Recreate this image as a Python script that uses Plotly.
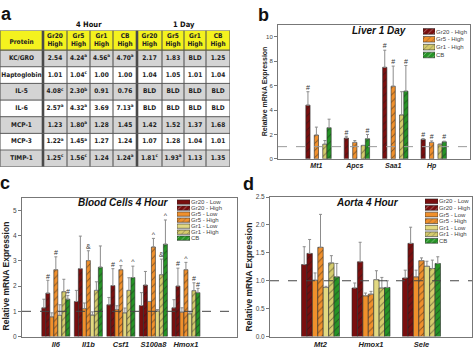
import plotly.graph_objects as go

W, H = 473, 352

# ---------------- Panel a: protein table ----------------
proteins = ["KC/GRO", "Haptoglobin", "IL-5", "IL-6", "MCP-1", "MCP-3", "TIMP-1"]
table_headers = ["Protein", "Gr20<br>High", "Gr5<br>High", "Gr1<br>High", "CB<br>High",
                 "Gr20<br>High", "Gr5<br>High", "Gr1<br>High", "CB<br>High"]
h4_gr20 = ["2.54", "1.01", "4.08", "2.57", "1.23", "1.22", "1.25"]
h4_gr20_sig = ["", "", "c", "a", "", "a", "c"]
h4_gr5 = ["4.24", "1.04", "2.30", "4.32", "1.80", "1.45", "1.56"]
h4_gr5_sig = ["a", "c", "b", "a", "a", "a", "c"]
h4_gr1 = ["4.56", "1.00", "0.91", "3.69", "1.28", "1.27", "1.24"]
h4_gr1_sig = ["a", "", "", "", "", "", ""]
h4_cb = ["4.70", "1.00", "0.76", "7.13", "1.45", "1.24", "1.24"]
h4_cb_sig = ["a", "", "", "a", "", "", "a"]
d1_gr20 = ["2.17", "1.04", "BLD", "BLD", "1.42", "1.07", "1.81"]
d1_gr20_sig = ["", "", "", "", "", "", "c"]
d1_gr5 = ["1.83", "1.05", "BLD", "BLD", "1.52", "1.28", "1.93"]
d1_gr5_sig = ["", "", "", "", "", "", "a"]
d1_gr1 = ["BLD", "1.01", "BLD", "BLD", "1.37", "1.04", "1.13"]
d1_gr1_sig = ["", "", "", "", "", "", ""]
d1_cb = ["1.25", "1.04", "BLD", "BLD", "1.68", "1.01", "1.35"]
d1_cb_sig = ["", "", "", "", "", "", ""]

# ---------------- Panel b: Liver 1 Day ----------------
liver_genes = ["Mt1", "Apcs", "Saa1", "Hp"]
liver_series = ["Gr20 - High", "Gr5 - High", "Gr1 - High", "CB"]
liver_vals = [[4.4, 1.7, 7.5, 1.6],
              [1.95, 1.35, 5.95, 1.35],
              [1.2, 1.1, 3.6, 1.2],
              [2.55, 1.65, 5.55, 1.4]]
liver_errs = [[1.1, 0.15, 1.4, 0.05],
              [0.65, 0.15, 1.65, 0.12],
              [0.3, 0.0, 1.9, 0.0],
              [0.7, 0.35, 2.1, 0.05]]
liver_sig = [["#", "#", "#", "#"],
             ["", "", "#", "#"],
             ["", "", "", ""],
             ["", "#", "#", "#"]]

# ---------------- Panel c: Blood Cells 4 Hour ----------------
blood_genes = ["Il6", "Il1b", "Csf1", "S100a8", "Hmox1"]
all_series = ["Gr20 - Low", "Gr20 - High", "Gr5 - Low", "Gr5 - High", "Gr1 - Low", "Gr1 - High", "CB"]
blood_vals = [[1.14, 1.39, 1.26, 1.23, 1.14],
              [1.72, 2.69, 2.02, 2.04, 2.0],
              [0.78, 1.11, 1.07, 1.39, 0.97],
              [2.65, 3.01, 2.65, 3.55, 2.65],
              [0.84, 0.85, 0.94, 1.01, 0.9],
              [1.78, 1.83, 1.83, 2.45, 1.82],
              [1.48, 2.75, 2.34, 3.66, 1.74]]
blood_errs = [[0.34, 0.44, 0.29, 0.51, 0.32],
              [0.51, 1.29, 0.67, 0.54, 0.71],
              [0.16, 0.22, 0.15, 0.0, 0.17],
              [0.51, 0.39, 0.16, 0.34, 0.29],
              [0.42, 0.13, 0.19, 0.06, 0.08],
              [0.49, 0.34, 0.5, 0.62, 0.31],
              [0.15, 0.84, 0.45, 0.96, 0.17]]
blood_sig = [["", "", "", "", ""],
             ["#", "", "#", "", "#"],
             ["", "", "", "", ""],
             ["#", "&", "^", "^", "^"],
             ["", "", "", "", ""],
             ["", "", "", "&", "#"],
             ["#", "", "^", "^", "#"]]

# ---------------- Panel d: Aorta 4 Hour ----------------
aorta_genes = ["Mt2", "Hmox1", "Sele"]
aorta_vals = [[1.29, 0.87, 1.05],
              [1.49, 1.34, 1.67],
              [1.01, 0.73, 1.07],
              [1.60, 0.76, 1.36],
              [0.88, 1.02, 1.26],
              [1.32, 0.87, 1.22],
              [1.07, 0.88, 1.31]]
aorta_errs = [[0.32, 0.09, 0.14],
              [0.25, 0.35, 0.29],
              [0.13, 0.05, 0.12],
              [0.59, 0.05, 0.05],
              [0.02, 0.16, 0.09],
              [0.13, 0.19, 0.15],
              [0.24, 0.12, 0.12]]

reference_level = 1.0

# ---------------- styles / layout constants ----------------
FONT = "Liberation Sans, Arial, sans-serif"
TFONT = "Liberation Sans Narrow, DejaVu Sans Condensed, Arial Narrow, sans-serif"
STYLE = {
    "Gr20 - Low": ("#7A0E0E", ""),
    "Gr20 - High": ("#7A0E0E", "/"),
    "Gr5 - Low": ("#F0902C", ""),
    "Gr5 - High": ("#F0902C", "/"),
    "Gr1 - Low": ("#E2D982", ""),
    "Gr1 - High": ("#D5CB6C", "/"),
    "CB": ("#269426", "/"),
}
TABLE_COL_EDGES = [0, 43, 67, 90, 113, 137, 162, 184, 206, 230]
TABLE_ROW_EDGES = [0, 20, 37, 54, 71, 88, 105, 122, 139]
TABLE_TOP = 27
THICK_EDGES = [43, 137]


def px_x(p):
    return p / W


def px_y(p):
    return 1 - p / H


fig = go.Figure()

# ---- table drawn as a heatmap (cell fills) + text
def fmt(vals, sigs):
    return [f"<b>{v}<sup>{s}</sup></b>" if s else f"<b>{v}</b>" for v, s in zip(vals, sigs)]

cols = [[f"<b>{p}</b>" for p in proteins],
        fmt(h4_gr20, h4_gr20_sig), fmt(h4_gr5, h4_gr5_sig), fmt(h4_gr1, h4_gr1_sig), fmt(h4_cb, h4_cb_sig),
        fmt(d1_gr20, d1_gr20_sig), fmt(d1_gr5, d1_gr5_sig), fmt(d1_gr1, d1_gr1_sig), fmt(d1_cb, d1_cb_sig)]
ncol = len(cols)
nrow = len(proteins)
z = [[2] * ncol] + [[1 if r % 2 == 0 else 0] * ncol for r in range(nrow)]
fig.add_trace(go.Heatmap(
    x=TABLE_COL_EDGES, y=TABLE_ROW_EDGES, z=z, zmin=0, zmax=2,
    colorscale=[[0, "#FFFFFF"], [0.5, "#D4D4D4"], [1, "#F4F21E"]],
    showscale=False, hoverinfo="skip", xaxis="x7", yaxis="y7"))
tx, ty, tt = [], [], []
for c in range(ncol):
    xc = (TABLE_COL_EDGES[c] + TABLE_COL_EDGES[c + 1]) / 2
    tx.append(xc)
    ty.append((TABLE_ROW_EDGES[0] + TABLE_ROW_EDGES[1]) / 2 + (2 if c == 0 else 0))
    tt.append(f"<b>{table_headers[c]}</b>")
    for r in range(nrow):
        tx.append(xc)
        ty.append((TABLE_ROW_EDGES[r + 1] + TABLE_ROW_EDGES[r + 2]) / 2)
        tt.append(cols[c][r])
fig.add_trace(go.Scatter(x=tx, y=ty, text=tt, mode="text", textposition="middle center",
                         textfont=dict(family=TFONT, size=6.5, color="#222"),
                         xaxis="x7", yaxis="y7", showlegend=False, hoverinfo="skip",
                         cliponaxis=False))


# ---- bar panels
def add_bars(xa, ya, genes, series, vals, errs, sigs, w):
    for k, name in enumerate(series):
        slot = all_series.index(name)
        color, shape = STYLE[name]
        xs = [i + (slot - 3) * w for i in range(len(genes))]
        fig.add_trace(go.Bar(
            x=xs, y=vals[k], width=w, xaxis=xa, yaxis=ya, name=name,
            marker=dict(color=color, line=dict(color="#2a2a2a", width=0.6),
                        pattern=dict(shape=shape, fgcolor="#1a1a1a", size=5, solidity=0.18)),
            error_y=dict(type="data", array=errs[k], arrayminus=[0] * len(genes), symmetric=False,
                         color="#8c8c8c", thickness=1, width=1.5),
            showlegend=False, hoverinfo="skip"))
        if sigs is not None:
            keep = [j for j, s in enumerate(sigs[k]) if s]
            if keep:
                fig.add_trace(go.Scatter(
                    x=[xs[j] for j in keep], y=[vals[k][j] + errs[k][j] for j in keep],
                    text=[sigs[k][j] for j in keep],
                    mode="text", textposition="top center", xaxis=xa, yaxis=ya,
                    textfont=dict(family=FONT, size=7, color="#333"),
                    cliponaxis=False, showlegend=False, hoverinfo="skip"))


add_bars("x", "y", liver_genes, liver_series, liver_vals, liver_errs, liver_sig, 0.11)
add_bars("x2", "y2", blood_genes, all_series, blood_vals, blood_errs, blood_sig, 0.123)
add_bars("x3", "y3", aorta_genes, all_series, aorta_vals, aorta_errs, None, 0.1075)


# ---- legends drawn as small bar panels
def add_legend(xa, ya, series):
    n = len(series)
    fig.add_trace(go.Bar(
        x=[1] * n, y=list(range(n)), base=0, orientation="h", width=0.72, xaxis=xa, yaxis=ya,
        marker=dict(color=[STYLE[s][0] for s in series],
                    line=dict(color="#2a2a2a", width=0.6),
                    pattern=dict(shape=[STYLE[s][1] for s in series], fgcolor="#1a1a1a",
                                 size=4, solidity=0.2)),
        showlegend=False, hoverinfo="skip"))


add_legend("x4", "y4", liver_series)
add_legend("x5", "y5", all_series)
add_legend("x6", "y6", all_series)

axis_line = dict(showline=True, mirror=True, linecolor="#777777", linewidth=1,
                 showgrid=False, zeroline=False)


def xax(domain, rng, genes, size, anchor):
    return dict(domain=domain, range=rng, tickvals=list(range(len(genes))),
                ticktext=[f"<b><i>{g}</i></b>" for g in genes], ticks="", anchor=anchor,
                tickfont=dict(family=FONT, size=size, color="#222"), **axis_line)


def yax(domain, rng, dtick, size, anchor, fmtstr=None):
    d = dict(domain=domain, range=rng, dtick=dtick, tick0=0, ticks="outside", ticklen=3,
             tickwidth=1, tickcolor="#777777",
             tickfont=dict(family=FONT, size=size, color="#444"), anchor=anchor, **axis_line)
    if fmtstr:
        d["tickformat"] = fmtstr
    return d


def legax(domain_x, domain_y, series, xname, yname):
    n = len(series)
    xa = dict(domain=domain_x, range=[0, 1], visible=False, anchor=yname, fixedrange=True)
    ya = dict(domain=domain_y, range=[n - 0.5, -0.5], tickvals=list(range(n)), ticktext=series,
              side="right", ticks="", showline=False, showgrid=False, zeroline=False, anchor=xname,
              tickfont=dict(family=FONT, size=6, color="#444"), fixedrange=True)
    return xa, ya


lx4, ly4 = legax([px_x(423), px_x(435)], [px_y(56), px_y(24)], liver_series, "x4", "y4")
lx5, ly5 = legax([px_x(177), px_x(190)], [px_y(242), px_y(199)], all_series, "x5", "y5")
lx6, ly6 = legax([px_x(425), px_x(438)], [px_y(245), px_y(198)], all_series, "x6", "y6")

shapes = []
for ya, xr in [("y", "x domain"), ("y2", "x2 domain"), ("y3", "x3 domain")]:
    shapes.append(dict(type="line", xref=xr, x0=0, x1=1, yref=ya, y0=reference_level, y1=reference_level,
                       line=dict(color="#9a9a9a" if ya == "y" else "#444444", width=1, dash="dash")))
# table grid lines
for e in TABLE_COL_EDGES:
    shapes.append(dict(type="line", xref="x7", yref="y7", x0=e, x1=e,
                       y0=TABLE_ROW_EDGES[0], y1=TABLE_ROW_EDGES[-1],
                       line=dict(color="#4a4a4a", width=2.6 if e in THICK_EDGES else 1)))
for e in TABLE_ROW_EDGES:
    shapes.append(dict(type="line", xref="x7", yref="y7", y0=e, y1=e,
                       x0=TABLE_COL_EDGES[0], x1=TABLE_COL_EDGES[-1],
                       line=dict(color="#5a5a5a", width=1.3 if e == TABLE_ROW_EDGES[1] else 1)))

ann = []


def txt(x, y, s, size, bold=True, italic=False, angle=0, color="#111", family=FONT):
    t = s
    if italic:
        t = f"<i>{t}</i>"
    if bold:
        t = f"<b>{t}</b>"
    ann.append(dict(x=px_x(x), y=px_y(y), xref="paper", yref="paper", text=t, showarrow=False,
                    textangle=angle, font=dict(family=family, size=size, color=color),
                    xanchor="center", yanchor="middle"))


txt(6, 10, "a", 18)
txt(263, 11, "b", 18)
txt(5, 183, "c", 18)
txt(249, 184, "d", 18)
txt(89, 21, "4 Hour", 7.5, family=TFONT)
txt(184, 21, "1 Day", 7.5, family=TFONT)
txt(379, 27, "Liver 1 Day", 10, italic=True)
txt(123, 203, "Blood Cells 4 Hour", 10, italic=True)
txt(367, 203, "Aorta 4 Hour", 10, italic=True)
txt(265, 89, "Relative mRNA Expression", 7, angle=-90, color="#222")
txt(6, 278, "Relative mRNA Expression", 8.5, angle=-90, color="#222")
txt(249, 278, "Relative mRNA Expression", 8.5, angle=-90, color="#222")

table_w = TABLE_COL_EDGES[-1]
table_h = TABLE_ROW_EDGES[-1]
fig.update_layout(
    width=W, height=H, autosize=False, margin=dict(l=0, r=0, t=0, b=0),
    paper_bgcolor="white", plot_bgcolor="white", barmode="overlay", showlegend=False,
    font=dict(family=FONT, size=7),
    xaxis=xax([px_x(278), px_x(470)], [-1, 4], liver_genes, 7, "y"),
    yaxis=yax([px_y(158), px_y(21)], [0, 11], 2, 6, "x"),
    xaxis2=xax([px_x(22), px_x(237)], [-1.04, 5.57], blood_genes, 7.5, "y2"),
    yaxis2=yax([px_y(339.3), px_y(197.7)], [0, 5.5], 1, 6.5, "x2"),
    xaxis3=xax([px_x(270), px_x(472)], [-1, 3], aorta_genes, 7.5, "y3"),
    yaxis3=yax([px_y(339.3), px_y(197)], [0, 2.5], 0.5, 6.5, "x3", ".1f"),
    xaxis4=lx4, yaxis4=ly4, xaxis5=lx5, yaxis5=ly5, xaxis6=lx6, yaxis6=ly6,
    xaxis7=dict(domain=[px_x(0), px_x(table_w)], range=[0, table_w], visible=False,
                anchor="y7", fixedrange=True),
    yaxis7=dict(domain=[px_y(TABLE_TOP + table_h), px_y(TABLE_TOP)], range=[table_h, 0],
                visible=False, anchor="x7", fixedrange=True),
    shapes=shapes, annotations=ann,
)

fig.write_html("out.html")
